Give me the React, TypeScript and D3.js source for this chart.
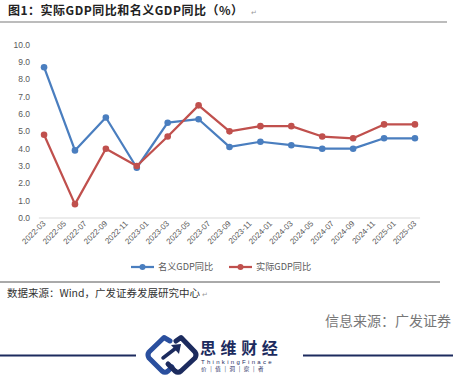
import React from "react";
import * as d3 from "d3";

const quarterDates = ["2022-03","2022-06","2022-09","2022-12","2023-03","2023-06","2023-09","2023-12","2024-03","2024-06","2024-09","2024-12","2025-03"];
const nominalGDP = [8.7, 3.9, 5.8, 2.9, 5.5, 5.7, 4.1, 4.4, 4.2, 4.0, 4.0, 4.6, 4.6];
const realGDP = [4.8, 0.8, 4.0, 3.0, 4.7, 6.5, 5.0, 5.3, 5.3, 4.7, 4.6, 5.4, 5.4];
const tickLabels = ["2022-03","2022-05","2022-07","2022-09","2022-11","2023-01","2023-03","2023-05","2023-07","2023-09","2023-11","2024-01","2024-03","2024-05","2024-07","2024-09","2024-11","2025-01","2025-03"];
const yTicks = [0,1,2,3,4,5,6,7,8,9,10];
const seriesNames = ["名义GDP同比", "实际GDP同比"];
const titleText = "图1：实际GDP同比和名义GDP同比（%）";
const sourceText = "数据来源：Wind，广发证券发展研究中心";
const infoText = "信息来源：广发证券";

const BLUE = "#4a7ebf";
const RED = "#c0504d";
const GRAY = "#595959";
const NAVY = "#1c2b5e";

const fmt = d3.timeFormat("%Y-%m");
const months = d3.timeMonth.range(new Date(2022, 2, 1), new Date(2025, 3, 1)).map(fmt);

export default function App() {
  const x = d3.scaleBand<string>().domain(months).range([38.9, 420.1]).padding(0);
  const y = d3.scaleLinear().domain([0, 10]).range([218, 44.7]);
  const cx = (m: string) => (x(m) as number) + x.bandwidth() / 2;
  const line = d3.line<number>().x((_, i) => cx(quarterDates[i])).y((v) => y(v));
  const series = [
    { name: seriesNames[0], values: nominalGDP, color: BLUE },
    { name: seriesNames[1], values: realGDP, color: RED },
  ];
  const font = "'Liberation Sans', Arial, sans-serif";
  const cjk = "'Noto Sans CJK SC', 'Liberation Sans', sans-serif";
  const legendX = [131, 229];

  return (
    <svg width={453} height={379} style={{ position: "absolute", left: 0, top: 0, background: "#fff" }}>
      <rect width={453} height={379} fill="#fff" />
      {/* title */}
      <text x={8} y={15} fontSize={12} fontWeight="bold" fill="#222" fontFamily={cjk} letterSpacing={0.5}>{titleText}</text>
      <text x={251} y={15} fontSize={7} fill="#999" fontFamily={font}>↵</text>
      <line x1={0} x2={447} y1={22} y2={22} stroke="#a6a6a6" strokeWidth={1.5} />

      {/* y axis labels */}
      {yTicks.map((t) => (
        <text key={t} x={30} y={y(t) + 3} textAnchor="end" fontSize={8.5} fill={GRAY} fontFamily={font}>{t.toFixed(1)}</text>
      ))}
      {/* baseline */}
      <line x1={38.9} x2={420.1} y1={y(0)} y2={y(0)} stroke="#d9d9d9" strokeWidth={1} />
      {/* x tick labels */}
      {tickLabels.map((l) => {
        const px = cx(l) + 2;
        const py = 224;
        return (
          <text key={l} x={px} y={py} transform={`rotate(-45 ${px} ${py})`} textAnchor="end" fontSize={8} fill={GRAY} fontFamily={font}>{l}</text>
        );
      })}

      {/* series */}
      {series.map((s) => (
        <g key={s.name}>
          <path d={line(s.values) || ""} fill="none" stroke={s.color} strokeWidth={2.25} strokeLinejoin="round" />
          {s.values.map((v, i) => (
            <circle key={i} cx={cx(quarterDates[i])} cy={y(v)} r={3.3} fill={s.color} />
          ))}
        </g>
      ))}

      {/* legend */}
      {series.map((s, i) => (
        <g key={s.name} transform={`translate(${legendX[i]},267)`}>
          <line x1={0} x2={23} y1={0} y2={0} stroke={s.color} strokeWidth={2.25} />
          <circle cx={11.5} cy={0} r={3} fill={s.color} />
          <text x={27} y={3.3} fontSize={9.2} fill={GRAY} fontFamily={cjk}>{s.name}</text>
        </g>
      ))}

      {/* source */}
      <line x1={0} x2={440} y1={282} y2={282} stroke="#555" strokeWidth={1} />
      <text x={7} y={297} fontSize={10.5} fill="#333" fontFamily={cjk}>{sourceText}</text>
      <text x={202} y={297} fontSize={7} fill="#999" fontFamily={font}>↵</text>

      <text x={451} y={326} textAnchor="end" fontSize={14} fill="#777" fontFamily={cjk}>{infoText}</text>

      {/* logo */}
      <line x1={0} x2={136} y1={355.5} y2={355.5} stroke={NAVY} strokeWidth={2} />
      <line x1={303} x2={453} y1={355.5} y2={355.5} stroke={NAVY} strokeWidth={2} />
      <g>
        <path d="M 170 341 L 164 337.5 L 149 352 Q 147 355 149 358 L 162 371 Q 165 373.5 168 371 L 172 367" fill="none" stroke="#2a4f9e" strokeWidth={5} strokeLinejoin="round" strokeLinecap="round" />
        <path d="M 176 341 L 181 337.5 L 195 352 Q 197 355 195 358 L 181 371 Q 178 373.5 175 371 L 168 364" fill="none" stroke={NAVY} strokeWidth={5} strokeLinejoin="round" strokeLinecap="round" />
        <path d="M 163 358 L 176 348" stroke={NAVY} strokeWidth={3.5} strokeLinecap="round" />
        <path d="M 171 345 L 181 344 L 179 354 Z" fill={NAVY} />
      </g>
      <text x={200} y={354} fontSize={16} fontWeight="bold" fill={NAVY} fontFamily={cjk} letterSpacing={4.6}>思维财经</text>
      <text x={201} y={364} fontSize={6} fill={NAVY} fontFamily={font} letterSpacing={2.3}>ThinkingFinace</text>
      <text x={201} y={371} fontSize={5.5} fill={NAVY} fontFamily={cjk} letterSpacing={1.2}>价 | 值 | 洞 | 察 | 者</text>
    </svg>
  );
}
